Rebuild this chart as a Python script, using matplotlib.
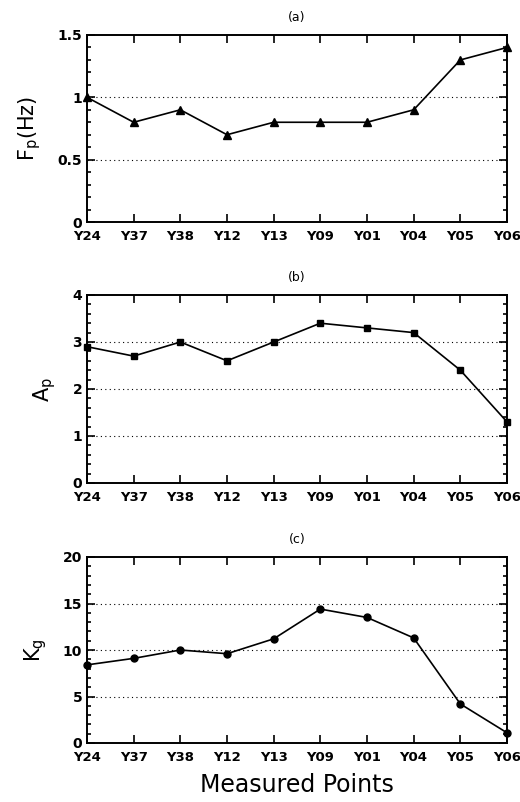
import numpy as np
import matplotlib
matplotlib.use("Agg")
import matplotlib.pyplot as plt
from matplotlib.ticker import MultipleLocator

points = ["Y24", "Y37", "Y38", "Y12", "Y13", "Y09", "Y01", "Y04", "Y05", "Y06"]
fp_hz = [1.0, 0.8, 0.9, 0.7, 0.8, 0.8, 0.8, 0.9, 1.3, 1.4]
a_p = [2.9, 2.7, 3.0, 2.6, 3.0, 3.4, 3.3, 3.2, 2.4, 1.3]
k_g = [8.4, 9.1, 10.0, 9.6, 11.2, 14.4, 13.5, 11.3, 4.2, 1.1]

plt.rcParams['font.family'] = 'DejaVu Sans'

fig = plt.figure(figsize=(5.2, 8.02), dpi=100)
W, H = 520, 802

# panel boxes in pixels: (top, bottom)
boxes = [(35, 222), (295, 483), (557, 743)]
left, right = 87, 507

panels = [
    (fp_hz, "^", r"F$_\mathregular{p}$(Hz)", "(a)", 1.5, 0.5, 0.1, ["0", "0.5", "1", "1.5"]),
    (a_p, "s", r"A$_\mathregular{p}$", "(b)", 4, 1, 0.2, None),
    (k_g, "o", r"K$_\mathregular{g}$", "(c)", 20, 5, 1, None),
]

x = np.arange(len(points))
for (top, bot), (vals, mk, ylab, title, ymax, major, minor, yt) in zip(boxes, panels):
    ax = fig.add_axes([left / W, 1 - bot / H, (right - left) / W, (bot - top) / H])
    ax.plot(x, vals, color="black", lw=1.2, marker=mk, ms=6 if mk == "^" else 5,
            clip_on=False, zorder=3)
    ax.set_xlim(0, len(points) - 1)
    ax.set_ylim(0, ymax)
    ax.yaxis.set_major_locator(MultipleLocator(major))
    ax.yaxis.set_minor_locator(MultipleLocator(minor))
    if yt:
        ax.set_yticks([0, 0.5, 1, 1.5])
        ax.set_yticklabels(yt)
    for g in np.arange(major, ymax - 1e-9, major):
        ax.axhline(g, color="black", lw=0.8, ls=(0, (1, 3)), zorder=1)
    ax.set_xticks(x)
    ax.set_xticklabels(points, fontweight="bold", fontsize=9.5)
    for lab in ax.get_yticklabels():
        lab.set_fontweight("bold")
        lab.set_fontsize(10)
    ax.tick_params(which="both", direction="in", top=True, right=True, width=1.2)
    ax.tick_params(which="major", length=6)
    ax.tick_params(which="minor", length=3)
    ax.tick_params(axis="x", pad=6)
    for s in ax.spines.values():
        s.set_linewidth(1.4)
    ax.set_ylabel(ylab, fontsize=15, labelpad=10)
    ax.set_title(title, fontsize=9, pad=10)

fig.text(0.5 * (left + right) / W, 1 - 785 / H, "Measured Points", fontsize=17,
         ha="center", va="center")

fig.savefig("out.png", dpi=100)
